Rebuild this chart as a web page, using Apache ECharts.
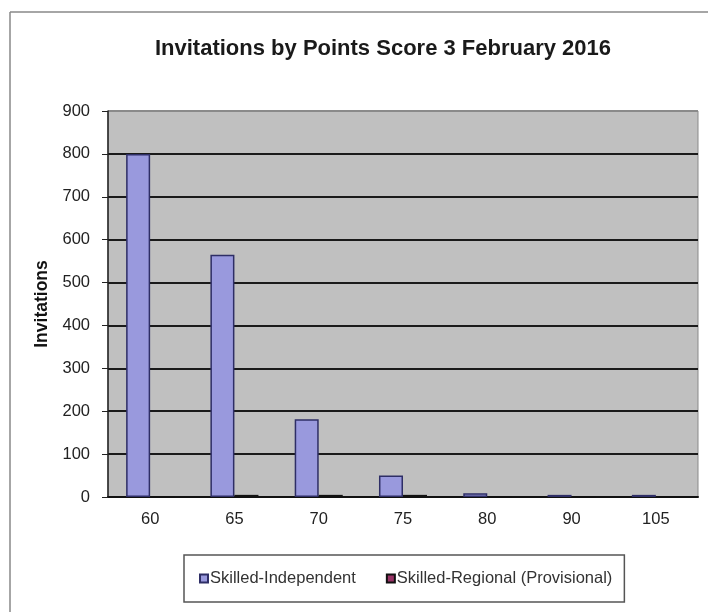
<!DOCTYPE html>
<html>
<head>
<meta charset="utf-8">
<title>Invitations by Points Score</title>
<script src="https://cdn.jsdelivr.net/npm/echarts@6/dist/echarts.min.js"></script>
<style>
  html, body { margin: 0; padding: 0; background: #fff; }
  #chart { width: 708px; height: 612px; }
</style>
</head>
<body>
<div id="chart"></div>
<script>
// points score categories
const scores = ['60', '65', '70', '75', '80', '90', '105'];
// invitations per series
const skilledIndependent = [800, 565, 181, 50, 9, 5, 5];
const skilledRegional = [0, 5, 5, 5, 0, 0, 0];
// y axis ticks
const yMin = 0;
const yMax = 900;
const yStep = 100;

const chart = echarts.init(document.getElementById('chart'), null, { renderer: 'canvas' });

const FONT = 'Liberation Sans, Arial, sans-serif';
const labelFont = { fontFamily: FONT, fontSize: 16.5, color: '#222' };

// gridlines are dark, except the top one which is part of the grey plot border
const splitColors = [];
for (let v = yMin; v <= yMax; v += yStep) splitColors.push(v === yMax ? '#8a8a8a' : '#1a1a1a');

const option = {
  backgroundColor: '#fff',
  animation: false,
  title: {
    text: 'Invitations by Points Score 3 February 2016',
    left: 378,
    textAlign: 'center',
    top: 33,
    textStyle: {
      fontFamily: FONT,
      fontSize: 22,
      fontWeight: 'bold',
      color: '#1a1a1a'
    }
  },
  // outer chart frame (only top and left edges show in the picture)
  graphic: [
    { type: 'line', shape: { x1: 10, y1: 12, x2: 708, y2: 12 }, style: { stroke: '#888', lineWidth: 1.5 } },
    { type: 'line', shape: { x1: 10, y1: 12, x2: 10, y2: 612 }, style: { stroke: '#888', lineWidth: 1.5 } }
  ],
  legend: {
    left: 184,
    top: 555,
    padding: [15, 12, 15, 15],
    itemGap: 30,
    itemWidth: 8,
    itemHeight: 8,
    icon: 'rect',
    borderColor: '#555',
    borderWidth: 1.5,
    textStyle: { fontFamily: FONT, fontSize: 16.5, color: '#333', padding: [0, 0, 0, -3] },
    data: ['Skilled-Independent', 'Skilled-Regional (Provisional)']
  },
  grid: {
    left: 108,
    right: 10,
    top: 111,
    bottom: 115,
    show: true,
    backgroundColor: '#C0C0C0',
    borderColor: '#8a8a8a',
    borderWidth: 1
  },
  xAxis: {
    type: 'category',
    data: scores,
    axisLine: { lineStyle: { color: '#111', width: 2 } },
    axisTick: { length: 5, lineStyle: { color: '#222' } },
    axisLabel: Object.assign({ margin: 14 }, labelFont)
  },
  yAxis: {
    type: 'value',
    min: yMin,
    max: yMax,
    interval: yStep,
    name: 'Invitations',
    nameLocation: 'middle',
    nameRotate: 90,
    nameGap: 54,
    nameTextStyle: {
      fontFamily: FONT,
      fontSize: 17.5,
      fontWeight: 'bold',
      color: '#111'
    },
    axisLine: { show: true, lineStyle: { color: '#222', width: 1.5 } },
    axisTick: { show: true, length: 6, lineStyle: { color: '#222' } },
    axisLabel: Object.assign({ margin: 18 }, labelFont),
    splitLine: { lineStyle: { color: splitColors, width: 2 } }
  },
  series: [
    {
      name: 'Skilled-Independent',
      type: 'bar',
      data: skilledIndependent,
      barGap: '0%',
      barCategoryGap: '43%',
      itemStyle: { color: '#9999DD', borderColor: '#2e2e66', borderWidth: 1.5 }
    },
    {
      name: 'Skilled-Regional (Provisional)',
      type: 'bar',
      data: skilledRegional,
      itemStyle: { color: '#993366', borderColor: '#111', borderWidth: 1.5 }
    }
  ]
};

chart.setOption(option);
</script>
</body>
</html>
